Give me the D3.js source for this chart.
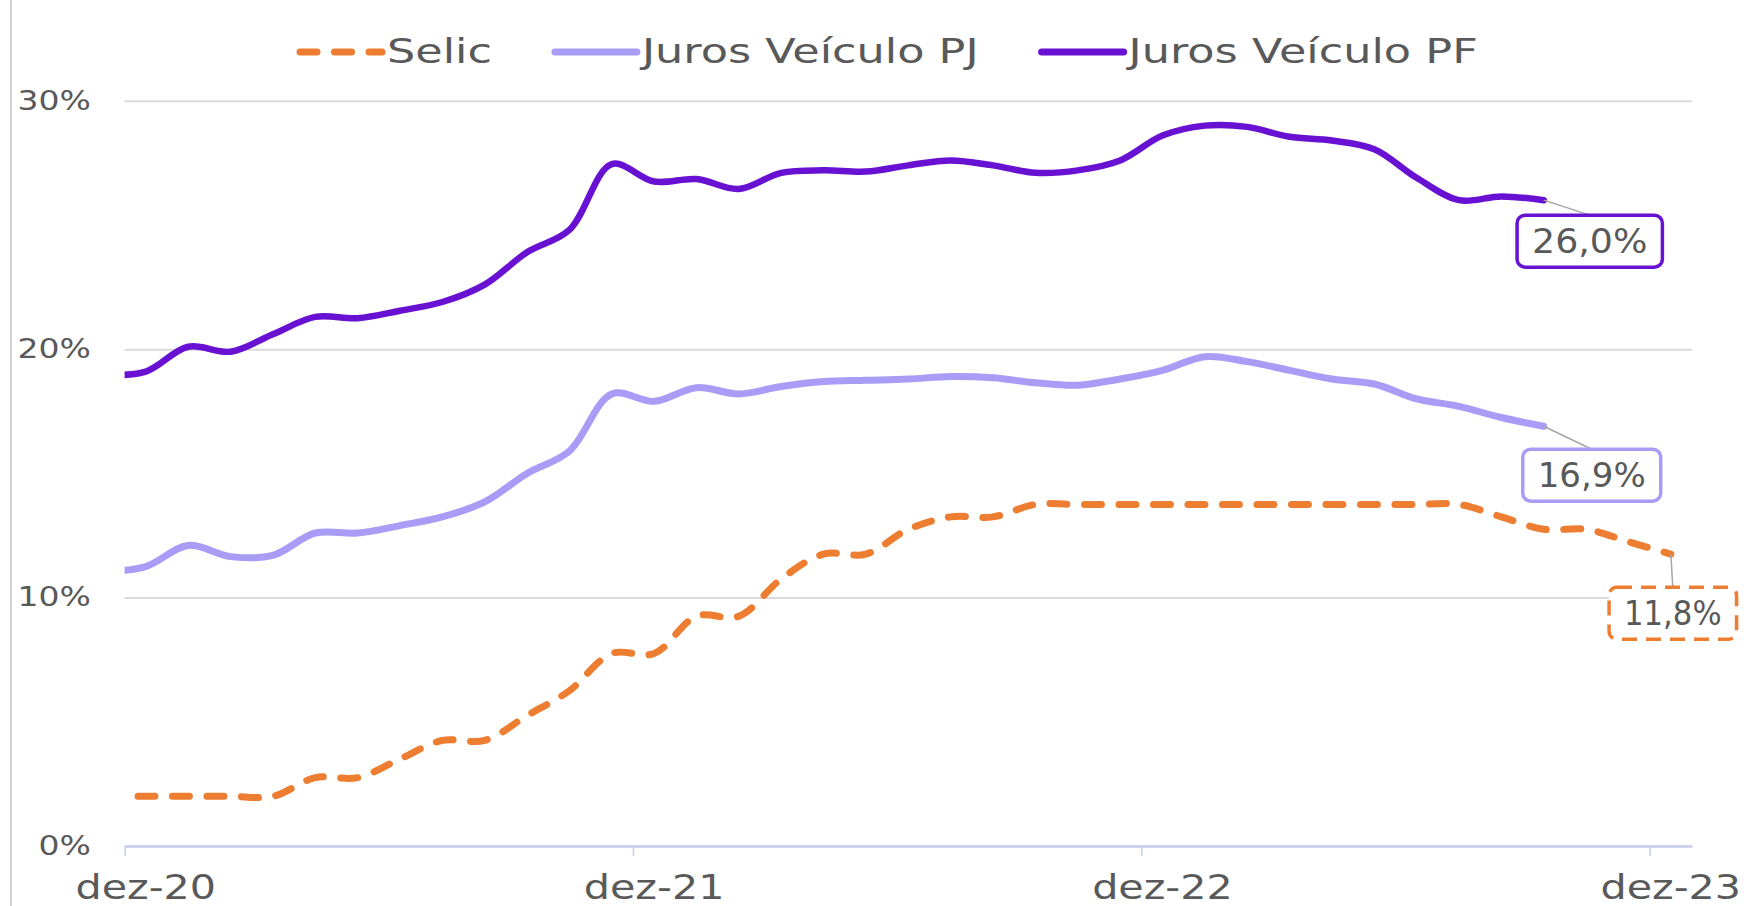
<!DOCTYPE html>
<html>
<head>
<meta charset="utf-8">
<script src="https://cdn.jsdelivr.net/npm/d3@7"></script>
<style>
  html, body { margin: 0; padding: 0; background: #fff; }
  svg { display: block; font-family: "DejaVu Sans", sans-serif; }
</style>
</head>
<body>
<script>
var width = 1744, height = 906;

// months nov-20 .. dez-23 (nov-20 sits left of the axis start and gets clipped)
var monthNames = ["jan","fev","mar","abr","mai","jun","jul","ago","set","out","nov","dez"];
var months = [];
for (var m = 10; m <= 47; m++) months.push(monthNames[m % 12] + "-" + (20 + Math.floor(m / 12)));

var xTickLabels = ["dez-20", "dez-21", "dez-22", "dez-23"];
var yTicks = [0, 10, 20, 30];

var selic = [2.0, 2.0, 2.0, 2.0, 2.0, 2.75, 2.75, 3.5, 4.25, 4.25, 5.25, 6.25, 7.75, 7.75,
  9.25, 9.25, 10.75, 11.75, 11.75, 12.75, 13.25, 13.25,
  13.75, 13.75, 13.75, 13.75, 13.75, 13.75, 13.75, 13.75, 13.75, 13.75, 13.75,
  13.25, 12.75, 12.75, 12.25, 11.75];

var jurosPJ = [11.05, 11.25, 12.1, 11.65, 11.7, 12.6, 12.6, 12.9, 13.25, 13.85, 15.0, 15.9,
  18.2, 17.9, 18.45, 18.2, 18.5, 18.7, 18.75, 18.8, 18.9, 18.85, 18.65, 18.55, 18.8,
  19.15, 19.7, 19.5, 19.15, 18.8, 18.6, 18.0, 17.7, 17.25, 16.9];

var jurosPF = [18.95, 19.1, 20.1, 19.9, 20.6, 21.3, 21.25, 21.55, 21.9, 22.6, 23.9, 24.8,
  27.45, 26.75, 26.85, 26.45, 27.1, 27.2, 27.15, 27.4, 27.6, 27.4, 27.1, 27.2, 27.6,
  28.6, 29.0, 28.95, 28.55, 28.4, 28.05, 26.9, 26.0, 26.15, 26.0];

var series = [
  {name: "Selic", values: selic, color: "#ed7d31", width: 7, dash: "17,17.5", labelDx: 2, labelDy: 59, boxDash: "15,9", labelStretch: 0.93},
  {name: "Juros Veículo PJ", values: jurosPJ, color: "#a99cf6", width: 7, dash: null, labelDx: 48, labelDy: 49, boxDash: null, labelStretch: 1.03},
  {name: "Juros Veículo PF", values: jurosPF, color: "#6811d3", width: 6.5, dash: null, labelDx: 46, labelDy: 41, boxDash: null, labelStretch: 1.1}
];

var textColor = "#595959";
var ptBR = d3.formatLocale({decimal: ",", thousands: ".", grouping: [3], currency: ["R$", ""]});
var fmt1 = ptBR.format(".1f");

var plotLeft = 124.6, plotRight = 1692, plotTop = 100.8, plotBottom = 846;

// month slot scale: dez-20 = slot 0, points sit at slot centres
var x = d3.scaleLinear().domain([0, 37]).range([plotLeft, plotRight]);
var y = d3.scaleLinear().domain([0, 30]).range([plotBottom, plotTop]);
function px(i) { return x(i - 0.5); }   // i = index in months (0 = nov-20)

var svg = d3.select("body").append("svg")
    .attr("width", width)
    .attr("height", height);

svg.append("rect").attr("width", width).attr("height", height).attr("fill", "#fff");

// stretch text horizontally to mimic the wide font of the original
function stretch(sel, f) {
  sel.each(function() {
    var w = this.getComputedTextLength();
    d3.select(this).attr("textLength", w * f).attr("lengthAdjust", "spacingAndGlyphs");
  });
}

// picture border on the left
svg.append("line")
    .attr("x1", 11).attr("x2", 11).attr("y1", 0).attr("y2", height)
    .attr("stroke", "#c4c4c4").attr("stroke-width", 1.5);

// gridlines + y labels
var yAxis = svg.append("g")
    .attr("transform", "translate(" + plotLeft + ",0)")
    .call(d3.axisLeft(y).tickValues(yTicks).tickSize(-(plotRight - plotLeft)).tickPadding(plotLeft - 91)
      .tickFormat(function(d) { return d + "%"; }));
yAxis.select(".domain").remove();
yAxis.selectAll(".tick line").attr("stroke", "#dadada").attr("stroke-width", 2);
yAxis.selectAll(".tick text")
    .attr("fill", textColor).attr("font-size", 26).attr("font-family", "DejaVu Sans, sans-serif")
    .call(stretch, 1.27);

// x axis line and ticks
var xAxis = svg.append("g")
    .attr("transform", "translate(0," + plotBottom + ")")
    .call(d3.axisBottom(x)
      .tickValues(xTickLabels.map(function(l) { return months.indexOf(l) - 1; }))
      .tickSize(10).tickSizeOuter(0).tickFormat(""));
xAxis.select(".domain").attr("stroke", "#c6cfeb").attr("stroke-width", 2.5);
xAxis.selectAll(".tick line").attr("stroke", "#c6cfeb").attr("stroke-width", 1.5);

svg.append("g").selectAll("text")
    .data(xTickLabels)
  .enter().append("text")
    .attr("x", function(d) { return px(months.indexOf(d)); })
    .attr("y", 899)
    .attr("text-anchor", "middle")
    .attr("fill", textColor)
    .attr("font-size", 33)
    .text(function(d) { return d; })
    .call(stretch, 1.25);

// lines
svg.append("clipPath").attr("id", "plotclip")
  .append("rect").attr("x", plotLeft).attr("y", 0).attr("width", width - plotLeft).attr("height", height);

var line = d3.line()
    .x(function(d, i) { return px(i); })
    .y(function(d) { return y(d); })
    .curve(d3.curveCatmullRom.alpha(0.5));

svg.append("g").attr("clip-path", "url(#plotclip)")
  .selectAll("path")
    .data(series)
  .enter().append("path")
    .attr("d", function(d) { return line(d.values); })
    .attr("fill", "none")
    .attr("stroke", function(d) { return d.color; })
    .attr("stroke-width", function(d) { return d.width; })
    .attr("stroke-dasharray", function(d) { return d.dash; })
    .attr("stroke-linecap", "round")
    .attr("stroke-linejoin", "round");

// end labels
series.forEach(function(s) {
  var last = s.values.length - 1;
  var ex = px(last), ey = y(s.values[last]);
  var cx = ex + s.labelDx, cy = ey + s.labelDy;
  var boxH = 52;

  var g = svg.append("g");
  g.append("line")
      .attr("x1", ex).attr("y1", ey)
      .attr("x2", cx).attr("y2", cy - boxH / 2)
      .attr("stroke", "#a6a6a6").attr("stroke-width", 1.5);

  var box = g.append("rect");
  var t = g.append("text")
      .attr("x", cx).attr("y", cy + 12)
      .attr("text-anchor", "middle")
      .attr("fill", textColor)
      .attr("font-size", 33)
      .text(fmt1(s.values[last]) + "%");
  stretch(t, s.labelStretch);
  var tw = +t.attr("textLength");

  box.attr("x", cx - tw / 2 - 15).attr("y", cy - boxH / 2)
      .attr("width", tw + 30).attr("height", boxH)
      .attr("rx", 8)
      .attr("fill", "#fff")
      .attr("stroke", s.color)
      .attr("stroke-width", 3.5)
      .attr("stroke-dasharray", s.boxDash);
});

// legend
var lx = 300, ly = 52;
series.forEach(function(s) {
  svg.append("line")
      .attr("x1", lx).attr("x2", lx + 82).attr("y1", ly).attr("y2", ly)
      .attr("stroke", s.color)
      .attr("stroke-width", 7)
      .attr("stroke-dasharray", s.dash)
      .attr("stroke-linecap", "round");
  var t = svg.append("text")
      .attr("x", lx + 87).attr("y", ly + 11)
      .attr("fill", textColor)
      .attr("font-size", 33)
      .text(s.name);
  stretch(t, 1.35);
  lx = lx + 87 + (+t.attr("textLength")) + 63;
});
</script>
</body>
</html>
